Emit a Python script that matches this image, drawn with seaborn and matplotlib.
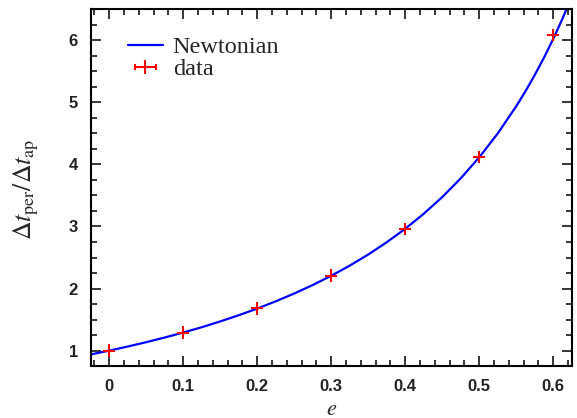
import matplotlib
matplotlib.use("Agg")
import matplotlib.pyplot as plt
import seaborn as sns
import pandas as pd
from matplotlib.ticker import MultipleLocator
from matplotlib.lines import Line2D
from matplotlib.legend_handler import HandlerLine2D, HandlerTuple

# Newtonian curve, values
curve_e = [-0.025, 0.0, 0.025, 0.05, 0.075, 0.1, 0.125, 0.15, 0.175, 0.2,
           0.225, 0.25, 0.275, 0.3, 0.325, 0.35, 0.375, 0.4, 0.425, 0.45,
           0.475, 0.5, 0.525, 0.55, 0.5625, 0.575, 0.5875, 0.6, 0.6125, 0.625]
curve_ratio = [0.938, 1.000, 1.066, 1.136, 1.211, 1.291, 1.377, 1.470, 1.570,
               1.677, 1.794, 1.920, 2.057, 2.206, 2.369, 2.548, 2.746, 2.963,
               3.205, 3.474, 3.776, 4.115, 4.499, 4.938, 5.180, 5.441, 5.721,
               6.024, 6.350, 6.703]

# measured data
data_e = [0.0, 0.1, 0.2, 0.3, 0.4, 0.5, 0.6]
data_ratio = [1.00, 1.29, 1.68, 2.21, 2.96, 4.12, 6.08]
data_xerr = [0.008] * 7
data_yerr = [0.1] * 7

x_ticks = [0, 0.1, 0.2, 0.3, 0.4, 0.5, 0.6]
x_ticklabels = ["0", "0.1", "0.2", "0.3", "0.4", "0.5", "0.6"]

sns.set_style("ticks")
plt.rcParams["mathtext.fontset"] = "stix"

fig = plt.figure(figsize=(5.77, 4.18), dpi=100)
ax = fig.add_axes([0.157, 0.124, 0.834, 0.854])

df = pd.DataFrame({"e": curve_e, "ratio": curve_ratio})
sns.lineplot(data=df, x="e", y="ratio", ax=ax, color="#0000ff", lw=1.6,
             legend=False)
ax.errorbar(data_e, data_ratio, xerr=data_xerr, yerr=data_yerr, fmt="none",
            ecolor="#ff0000", elinewidth=1.5, capsize=0)

ax.set_xlim(-0.025, 0.625)
ax.set_ylim(0.75, 6.5)
ax.xaxis.set_minor_locator(MultipleLocator(0.02))
ax.yaxis.set_major_locator(MultipleLocator(1))
ax.yaxis.set_minor_locator(MultipleLocator(0.25))
ax.set_xticks(x_ticks)
ax.set_xticklabels(x_ticklabels)

for s in ax.spines.values():
    s.set_linewidth(1.5)
    s.set_color("black")
ax.tick_params(which="both", direction="in", top=True, right=True,
               color="black", width=1.1)
ax.tick_params(which="major", length=7.5, pad=9)
ax.tick_params(which="minor", length=4)
for lab in ax.get_xticklabels() + ax.get_yticklabels():
    lab.set_fontfamily("Liberation Sans")
    lab.set_fontweight("bold")
    lab.set_fontsize(12)
    lab.set_color("#222222")

ax.set_xlabel("$e$", fontsize=16, labelpad=4)
ax.set_ylabel(r"$\Delta t_{\rm per}/\Delta t_{\rm ap}$", fontsize=18.5)
ax.yaxis.set_label_coords(-0.104, 0.495)

# legend handles
newton_h = Line2D([], [], color="#0000ff", lw=1.6)
cap_h = Line2D([], [], color="#ff0000", lw=1.5, marker="|", markersize=5,
               markeredgewidth=1.5)
mid_h = Line2D([], [], color="#ff0000", lw=0, marker="|", markersize=10,
               markeredgewidth=1.5)
ax.legend([newton_h, (cap_h, mid_h)], ["Newtonian", "data"],
          handler_map={cap_h: HandlerLine2D(numpoints=2),
                       mid_h: HandlerLine2D(numpoints=1),
                       tuple: HandlerTuple(ndivide=1)},
          loc="upper left", bbox_to_anchor=(0.057, 0.952), frameon=False,
          prop={"family": "Liberation Serif", "size": 17.5},
          handlelength=1.45, handletextpad=0.4, labelspacing=0.0,
          borderaxespad=0)

fig.savefig("out.png", dpi=100)
